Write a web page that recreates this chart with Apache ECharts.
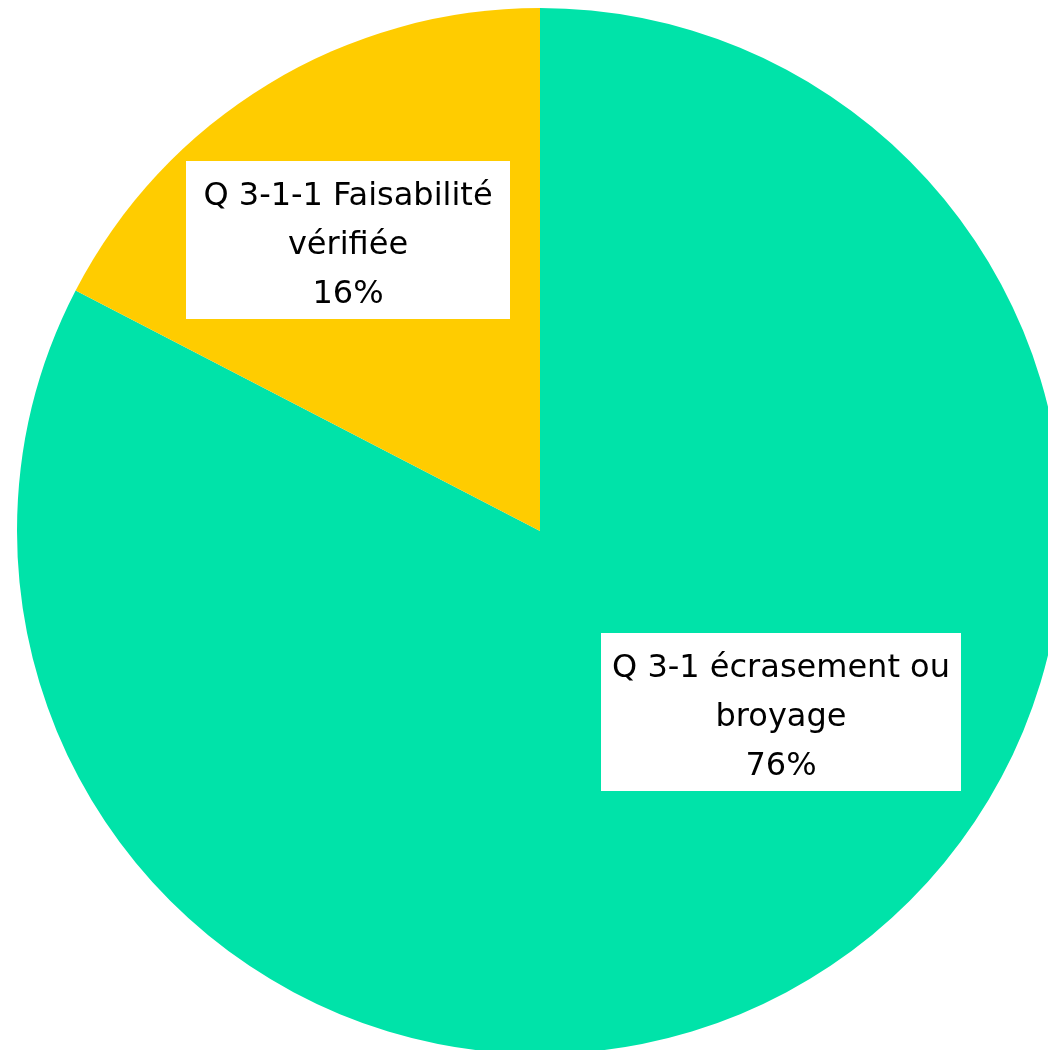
<!DOCTYPE html>
<html>
<head>
<meta charset="utf-8">
<script src="https://cdn.jsdelivr.net/npm/echarts@6/dist/echarts.min.js"></script>
<style>
  html, body { margin: 0; padding: 0; background: #ffffff; }
  #chart { width: 1048px; height: 1050px; }
</style>
</head>
<body>
<div id="chart"></div>
<script>
// Answer categories (label lines) and their shares (percent)
const categoryLines = [
  ['Q 3-1 écrasement ou', 'broyage'],
  ['Q 3-1-1 Faisabilité', 'vérifiée']
];
const shares = [76, 16];
const sliceColors = ['#00E3A9', '#FFCC00'];

// Label box top-centre anchors in pixels (one per slice)
const labelAnchors = [[781, 633], [348, 161]];
const labelWidths = [340, 304];

const chart = echarts.init(document.getElementById('chart'), null, { renderer: 'canvas' });

chart.setOption({
  backgroundColor: '#ffffff',
  animation: false,
  series: [{
    type: 'pie',
    center: [540, 531],
    radius: [0, 523],
    startAngle: 90,
    clockwise: true,
    avoidLabelOverlap: false,
    silent: true,
    itemStyle: { borderWidth: 0 },
    label: {
      show: true,
      position: 'inside',
      formatter: p => categoryLines[p.dataIndex].join('\n') + '\n' + p.value + '%',
      color: '#000000',
      fontFamily: '"Comic Sans MS", "DejaVu Sans", sans-serif',
      fontSize: 32,
      lineHeight: 49,
      align: 'center',
      backgroundColor: '#ffffff',
      padding: [11, 10, 0, 10],
      overflow: 'none'
    },
    labelLine: { show: false },
    labelLayout: function (params) {
      const c = labelAnchors[params.dataIndex];
      return { x: c[0], y: c[1], align: 'center', verticalAlign: 'top' };
    },
    data: categoryLines.map((lines, i) => ({
      name: lines.join(' '),
      value: shares[i],
      itemStyle: { color: sliceColors[i] },
      label: { width: labelWidths[i] }
    }))
  }]
});
</script>
</body>
</html>
